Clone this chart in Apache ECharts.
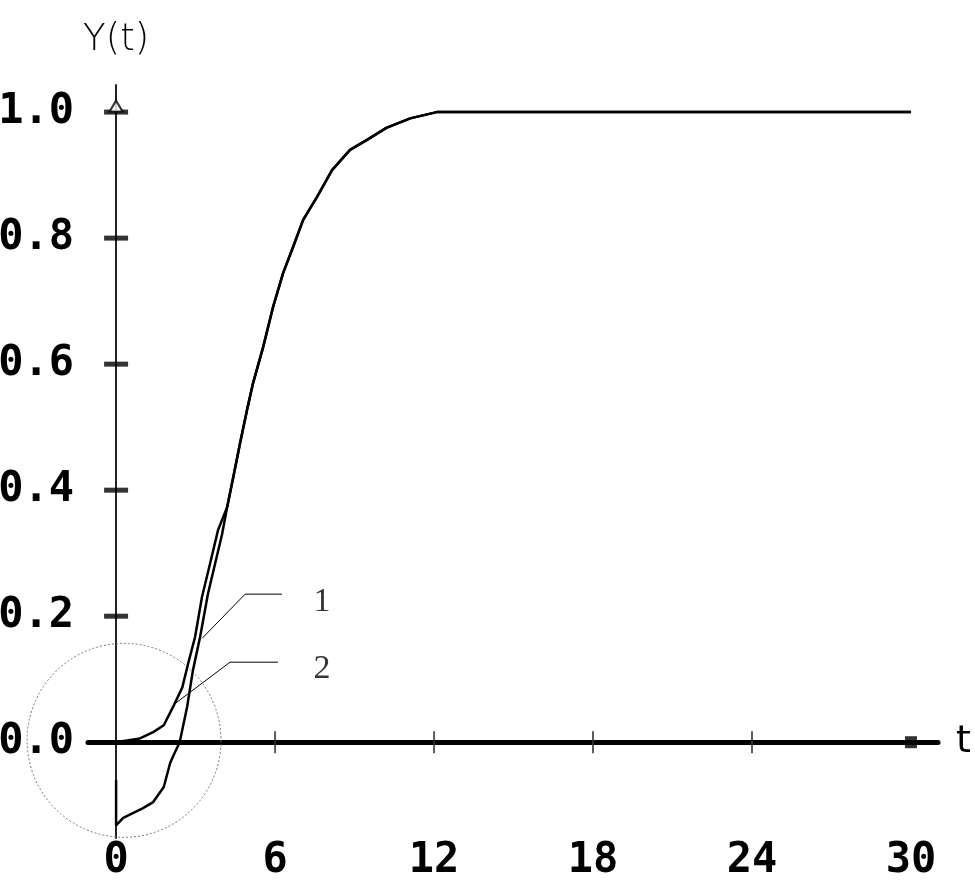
<!DOCTYPE html>
<html>
<head>
<meta charset="utf-8">
<script src="https://cdn.jsdelivr.net/npm/echarts@6/dist/echarts.min.js"></script>
<style>html,body{margin:0;padding:0;background:#fff;}#c{width:975px;height:883px;}</style>
</head>
<body>
<div id="c"></div>
<script>
// Curve 1: starts below zero
const tNeg = [0, 0, 0.27, 1.0, 1.4, 1.8, 2.04, 2.2, 2.4, 2.68, 2.9, 3.17, 3.47, 3.74, 4.0, 4.19];
const yNeg = [-0.06, -0.132, -0.12, -0.105, -0.095, -0.071, -0.033, -0.018, 0, 0.056, 0.114, 0.167, 0.236, 0.284, 0.33, 0.373];
// Curve 2: starts at zero
const tZero = [0, 0.9, 1.4, 1.8, 2.15, 2.5, 2.72, 2.98, 3.24, 3.55, 3.85, 4.19];
const yZero = [0, 0.006, 0.016, 0.027, 0.056, 0.087, 0.125, 0.167, 0.23, 0.284, 0.337, 0.373];
// Shared tail
const tTail = [4.42, 4.68, 4.94, 5.17, 5.55, 5.92, 6.3, 6.68, 7.06, 7.58, 8.15, 8.83, 9.47, 10.2, 11.1, 12.1, 30];
const yTail = [0.42, 0.475, 0.527, 0.57, 0.627, 0.69, 0.744, 0.786, 0.829, 0.865, 0.908, 0.94, 0.956, 0.975, 0.99, 1.0, 1.0];

const xLabels = [0, 6, 12, 18, 24, 30];
const yLabels = [0, 0.2, 0.4, 0.6, 0.8, 1.0];
const xTickValues = [6, 12, 18, 24];
const yTickValues = [0.2, 0.4, 0.6, 0.8, 1.0];
const xEnd = [30];
const yTop = [1.0];

// Leader lines and labels
const leader1T = [3.25, 4.87, 6.26], leader1Y = [0.165, 0.235, 0.235];
const leader2T = [2.15, 4.3, 6.11],  leader2Y = [0.059, 0.127, 0.127];
const labelT = [7.77, 7.77], labelY = [0.222, 0.116], labelText = ['1', '2'];
// Dotted circle (centre in data units, radius in t units)
const circleCenter = [0.3, 0.003];
const circleRadiusT = 3.66;

const zip = (a, b) => a.map((v, i) => [v, b[i]]);
const labelFont = { fontFamily: 'DejaVu Sans Mono', fontWeight: 'bold', fontSize: 42, color: '#000' };

const chart = echarts.init(document.getElementById('c'), null, { renderer: 'canvas' });
chart.setOption({
  animation: false,
  backgroundColor: '#fff',
  grid: { left: 88, right: 37, top: 85, bottom: 45, containLabel: false, outerBoundsMode: 'none' },
  xAxis: {
    type: 'value', min: -1.06, max: 31.02,
    axisLine: { onZero: true, lineStyle: { color: '#000', width: 5 } },
    axisTick: { show: false },
    splitLine: { show: false },
    axisLabel: Object.assign({ customValues: xLabels, margin: 2 }, labelFont),
    name: 't', nameLocation: 'end', nameGap: 18,
    nameTextStyle: { fontFamily: 'DejaVu Sans', fontSize: 38, color: '#000' }
  },
  yAxis: {
    type: 'value', min: -0.152, max: 1.043,
    axisLine: { onZero: true, lineStyle: { color: '#222', width: 2 } },
    axisTick: { show: false },
    splitLine: { show: false },
    axisLabel: Object.assign({ customValues: yLabels, margin: 14, formatter: v => v.toFixed(1) }, labelFont),
    name: 'Y(t)', nameLocation: 'end', nameGap: 26,
    nameTextStyle: { fontFamily: 'DejaVu Sans', fontSize: 37, color: '#000', fontWeight: 'lighter' }
  },
  series: [
    { name: '1', type: 'line', data: zip(tNeg.concat(tTail), yNeg.concat(yTail)), showSymbol: false, silent: true,
      lineStyle: { color: '#000', width: 2.5 }, z: 3 },
    { name: '2', type: 'line', data: zip(tZero.concat(tTail), yZero.concat(yTail)), showSymbol: false, silent: true,
      lineStyle: { color: '#000', width: 2.5 }, z: 3 },
    { type: 'line', data: zip(leader1T, leader1Y), showSymbol: false, silent: true, lineStyle: { color: '#000', width: 1 }, z: 4 },
    { type: 'line', data: zip(leader2T, leader2Y), showSymbol: false, silent: true, lineStyle: { color: '#000', width: 1 }, z: 4 },
    { type: 'scatter', data: labelT.map((t, i) => ({ value: [t, labelY[i]], name: labelText[i] })), symbolSize: 0, silent: true,
      label: { show: true, formatter: p => p.name, position: 'inside', fontFamily: 'Liberation Serif', fontSize: 34, color: '#000' }, z: 5 },
    { type: 'scatter', data: xTickValues.map(v => [v, 0]), symbol: 'rect', symbolSize: [2, 22], silent: true,
      itemStyle: { color: '#333' }, z: 6 },
    { type: 'scatter', data: yTickValues.map(v => [0, v]), symbol: 'rect', symbolSize: [24, 5], silent: true,
      itemStyle: { color: '#000' }, z: 6 },
    { type: 'scatter', data: yTop.map(v => [0, v]), symbol: 'triangle', symbolSize: [13, 11], symbolOffset: [0, -6], silent: true,
      itemStyle: { color: '#fff', borderColor: '#000', borderWidth: 2 }, z: 7 },
    { type: 'scatter', data: xEnd.map(v => [v, 0]), symbol: 'rect', symbolSize: [12, 12], silent: true,
      itemStyle: { color: '#000' }, z: 6 }
  ]
});

const c0 = chart.convertToPixel({ gridIndex: 0 }, circleCenter);
const c1 = chart.convertToPixel({ gridIndex: 0 }, [circleCenter[0] + circleRadiusT, circleCenter[1]]);
chart.setOption({
  graphic: [{
    type: 'circle', silent: true, z: 1,
    shape: { cx: c0[0], cy: c0[1], r: Math.abs(c1[0] - c0[0]) },
    style: { fill: 'none', stroke: '#777', lineWidth: 1, lineDash: [2, 2] }
  }]
});
</script>
</body>
</html>
